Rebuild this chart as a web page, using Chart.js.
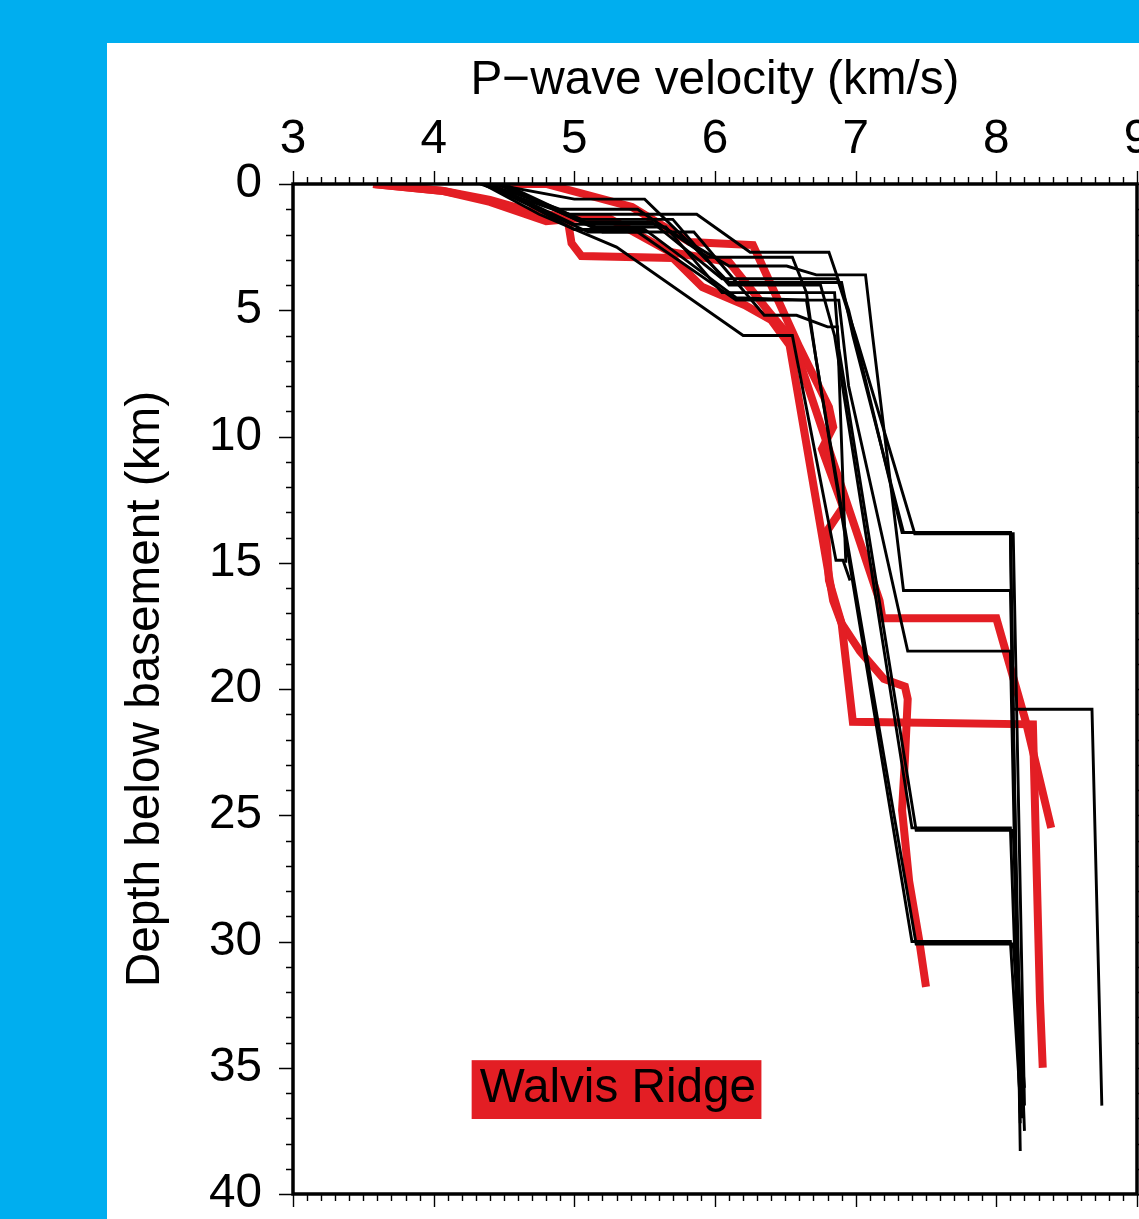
<!DOCTYPE html>
<html>
<head>
<meta charset="utf-8">
<script src="https://cdn.jsdelivr.net/npm/chart.js@4/dist/chart.umd.min.js"></script>
<style>
html, body { margin: 0; padding: 0; background: #00aeef; overflow: hidden; width: 1139px; height: 1219px; }
#panel { position: absolute; left: 107px; top: 43px; width: 1032px; height: 1176px; background: #fff; }
</style>
</head>
<body>
<div id="panel"><canvas id="chart"></canvas></div>
<script>
// velocity (km/s), depth below basement (km) pairs
const xTicks = [3, 4, 5, 6, 7, 8, 9];
const yTicks = [0, 5, 10, 15, 20, 25, 30, 35, 40];

// black: reference profiles
const prof01 = [[4.33,0],[4.95,1.2],[5.87,1.2],[6.25,2.7],[6.81,2.7],[6.95,5.0],[7.33,13.8],[8.1,13.8],[8.17,38.3]];
const prof02 = [[4.45,0],[5.05,1.5],[5.55,1.5],[6.05,3.75],[6.87,3.75],[7.0,6.0],[7.42,13.85],[8.12,13.85],[8.2,36.5]];
const prof03 = [[4.4,0],[5.0,1.6],[5.6,1.6],[6.1,3.25],[6.51,3.25],[6.72,3.6],[7.07,3.6],[7.12,6.0],[7.34,16.1],[8.1,16.1],[8.18,37.0]];
const prof04 = [[4.35,0],[5.1,1.9],[5.45,1.9],[6.15,4.6],[6.88,4.6],[6.95,8.0],[7.37,18.5],[8.1,18.5],[8.17,37.2]];
const prof05 = [[4.42,0],[5.0,0.6],[5.5,0.6],[5.85,2.5],[6.1,3.9],[6.9,3.9],[6.98,6.0],[7.34,13.8],[8.1,13.8],[8.12,20.8],[8.68,20.8],[8.75,36.5]];
const prof06 = [[4.45,0],[5.05,1.4],[5.7,1.4],[6.1,4.0],[6.75,4.0],[6.85,6.0],[7.4,25.5],[8.1,25.5],[8.17,36.8]];
const prof07 = [[4.5,0],[5.15,1.7],[5.65,1.7],[6.05,4.3],[6.85,4.3],[6.88,6.5],[7.43,25.6],[8.12,25.6],[8.2,37.5]];
const prof08 = [[4.38,0],[4.9,1.0],[5.45,1.0],[5.95,2.9],[6.55,2.9],[6.65,4.3],[6.72,7.0],[7.4,30.0],[8.1,30.0],[8.17,36.3]];
const prof09 = [[4.4,0],[5.0,1.8],[5.5,1.8],[6.15,4.5],[6.65,4.6],[6.75,8.0],[7.43,30.1],[8.12,30.1],[8.2,35.8]];
const prof10 = [[4.35,0],[4.75,1.2],[5.3,2.5],[6.2,6.0],[6.55,6.0],[6.86,14.9],[6.91,14.9],[6.96,15.7]];
const prof11 = [[4.47,0],[5.2,1.9],[5.85,1.9],[6.35,5.2],[6.58,5.2],[6.8,5.66],[6.87,5.66],[6.93,15.0]];
const blackProfiles = [prof01, prof02, prof03, prof04, prof05, prof06, prof07, prof08, prof09, prof10, prof11];

// red: Walvis Ridge profiles
const walvis1 = [[3.57,0],[4.07,0.28],[4.4,0.63],[4.73,1.15],[4.95,1.31],[4.98,2.34],[5.05,2.85],[5.7,2.93],[5.91,4.08],[6.21,4.79],[6.4,5.39],[6.53,6.38],[6.84,16.5],[6.9,17.4],[6.98,21.3],[8.26,21.4],[8.31,32.3],[8.33,35.0]];
const walvis2 = [[3.57,0],[4.07,0.28],[4.4,0.71],[4.8,1.47],[4.97,1.39],[5.23,1.31],[5.68,2.69],[6.1,3.09],[6.39,5.11],[6.55,6.18],[7.17,16.5],[7.19,17.2],[8.0,17.2],[8.21,21.3],[8.39,25.5]];
const walvis3 = [[4.42,0],[4.8,0],[5.41,0.91],[5.82,2.3],[6.27,2.42],[6.48,4.99],[6.6,6.46],[6.81,8.83],[6.84,9.62],[6.76,10.5],[6.91,12.8],[6.79,13.8],[6.81,15.7],[6.9,17.4],[7.03,18.5],[7.2,19.6],[7.35,19.9],[7.37,20.4],[7.35,22.8],[7.33,24.8],[7.38,27.6],[7.45,29.9],[7.5,31.8]];
const redProfiles = [walvis1, walvis2, walvis3];

const legendText = 'Walvis Ridge';
const RED = 'rgb(227,30,36)';
const FONT = '"Liberation Sans", Arial, Helvetica, sans-serif';
const FSIZE = 47.7;

function toPoints(p) {
    return p.map(function (q) { return {x: q[0], y: q[1]}; });
}

let datasets = [];
blackProfiles.forEach(function (p) {
    datasets.push({
        data: toPoints(p), showLine: true, borderColor: '#000', borderWidth: 2.9,
        pointRadius: 0, borderJoinStyle: 'miter', borderCapStyle: 'butt', tension: 0
    });
});
redProfiles.forEach(function (p) {
    datasets.push({
        data: toPoints(p), showLine: true, borderColor: RED, borderWidth: 8,
        pointRadius: 0, borderJoinStyle: 'miter', borderCapStyle: 'butt', tension: 0
    });
});

// frame and minor/major ticks on all sides
const frameTicks = {
    id: 'frameTicks',
    afterDraw(chart) {
        const ctx = chart.ctx, a = chart.chartArea;
        const xs = chart.scales.x, ys = chart.scales.y;
        ctx.save();
        ctx.strokeStyle = '#000';
        ctx.lineWidth = 1.4;
        ctx.beginPath();
        for (let i = 0; i <= 60; i++) {
            const v = 3 + i / 10;
            const px = Math.round(xs.getPixelForValue(v)) + 0.5;
            const len = (i % 10 === 0) ? 13 : 7;
            ctx.moveTo(px, a.top); ctx.lineTo(px, a.top - len);
            ctx.moveTo(px, a.bottom); ctx.lineTo(px, a.bottom + len);
        }
        for (let d = 0; d <= 40; d++) {
            const py = Math.round(ys.getPixelForValue(d)) + 0.5;
            const len = (d % 5 === 0) ? 14 : 7;
            ctx.moveTo(a.left, py); ctx.lineTo(a.left - len, py);
            ctx.moveTo(a.right, py); ctx.lineTo(a.right + len, py);
        }
        ctx.stroke();
        ctx.lineWidth = 3.5;
        ctx.strokeRect(a.left, a.top, a.right - a.left, a.bottom - a.top);
        ctx.restore();
    }
};

const legendBox = {
    id: 'legendBox',
    afterDatasetsDraw(chart) {
        const ctx = chart.ctx;
        const xs = chart.scales.x, ys = chart.scales.y;
        const x0 = xs.getPixelForValue(4.27), x1 = xs.getPixelForValue(6.33);
        const y0 = ys.getPixelForValue(34.7), y1 = ys.getPixelForValue(37.03);
        ctx.save();
        ctx.fillStyle = RED;
        ctx.fillRect(x0, y0, x1 - x0, y1 - y0);
        ctx.fillStyle = '#000';
        ctx.font = FSIZE + 'px ' + FONT;
        ctx.textBaseline = 'alphabetic';
        ctx.fillText(legendText, x0 + 8, y1 - 17);
        ctx.restore();
    }
};

const config = {
    type: 'scatter',
    data: { datasets: datasets },
    options: {
        responsive: true,
        maintainAspectRatio: false,
        animation: false,
        layout: { padding: { left: 0, top: 0, right: 2, bottom: 25 } },
        plugins: { legend: { display: false }, tooltip: { enabled: false } },
        scales: {
            x: {
                type: 'linear', position: 'top', min: 3, max: 9,
                afterBuildTicks: function (s) { s.ticks = xTicks.map(function (v) { return {value: v}; }); },
                ticks: { color: '#000', font: { size: FSIZE, family: FONT }, padding: 16, maxRotation: 0 },
                grid: { display: false, drawTicks: false },
                border: { display: false },
                title: { display: true, text: 'P\u2212wave velocity (km/s)', color: '#000',
                         font: { size: FSIZE, family: FONT }, padding: { top: 9, bottom: 0 } },
                afterFit: function (s) { s.height = 141; s.paddingLeft = 0; s.paddingRight = 0; }
            },
            y: {
                type: 'linear', reverse: true, min: 0, max: 40,
                afterBuildTicks: function (s) { s.ticks = yTicks.map(function (v) { return {value: v}; }); },
                ticks: { color: '#000', font: { size: FSIZE, family: FONT }, padding: 31 },
                grid: { display: false, drawTicks: false },
                border: { display: false },
                title: { display: true, text: 'Depth below basement (km)', color: '#000',
                         font: { size: FSIZE, family: FONT }, padding: { top: 10, bottom: 0 } },
                afterFit: function (s) { s.width = 186; s.paddingTop = 0; s.paddingBottom = 0; }
            }
        }
    },
    plugins: [frameTicks, legendBox]
};

new Chart(document.getElementById('chart').getContext('2d'), config);
</script>
</body>
</html>
